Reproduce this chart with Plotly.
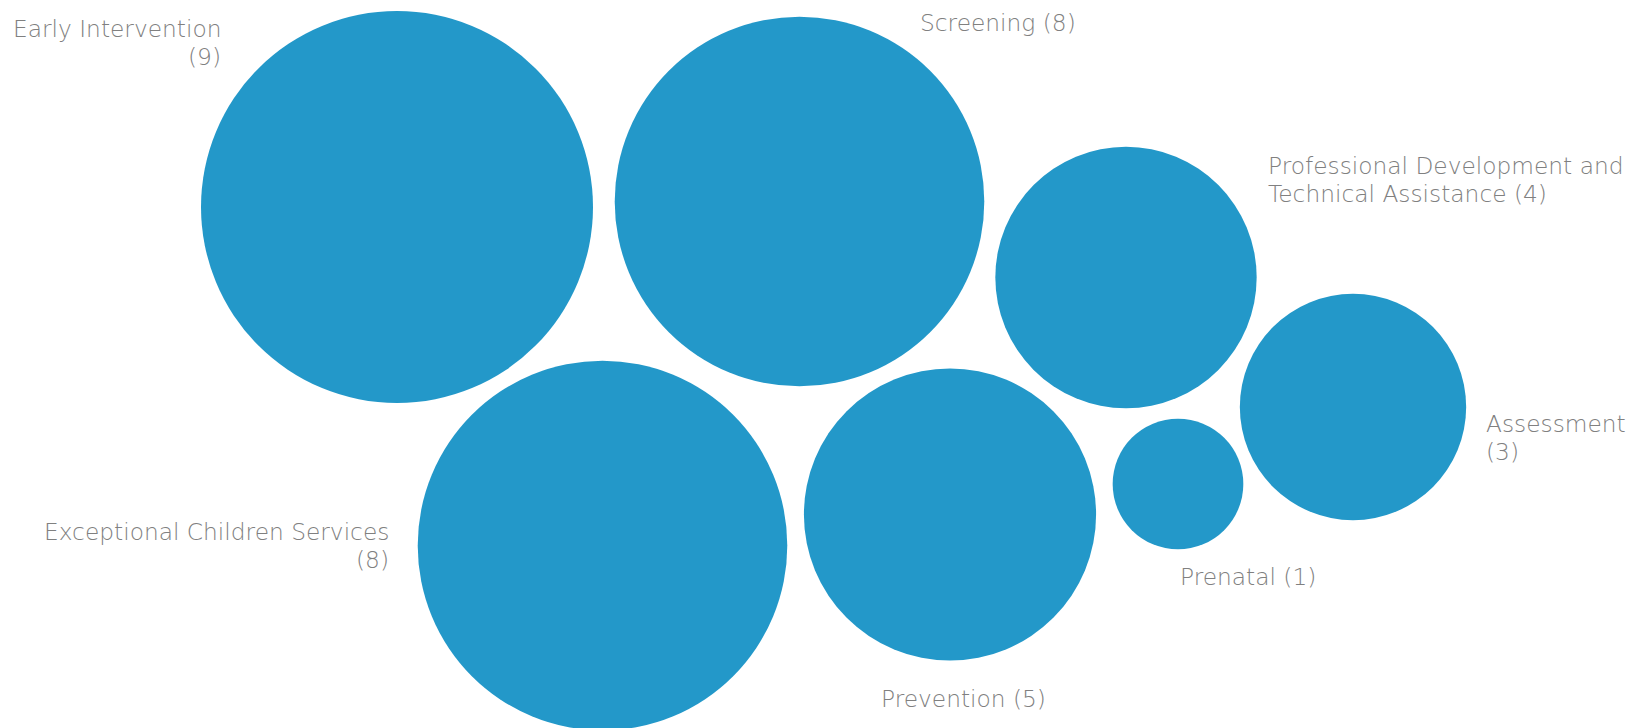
import plotly.graph_objects as go

# Program counts by service area
categories = [
    "Early Intervention",
    "Screening",
    "Professional Development and<br>Technical Assistance",
    "Assessment",
    "Prenatal",
    "Prevention",
    "Exceptional Children Services",
]
counts = [9, 8, 4, 3, 1, 5, 8]

# Packed bubble centres (pixel space of the canvas)
centre_x = [397, 799.5, 1126, 1353, 1178, 950, 602.5]
centre_y = [207, 201.5, 277.5, 407, 484, 514.5, 545.5]

# Label anchor (first line centre) and alignment
label_x = [223, 918, 1266, 1484, 1178, 879, 391]
label_y = [28, 22, 165, 423, 576, 698, 531]
label_side = ["right", "left", "left", "left", "left", "left", "right"]
label_break = [True, False, False, True, False, False, True]

W, H = 1642, 728
MAX_DIAMETER = 392
LINE_GAP = 28.5
BUBBLE_COLOR = "#2398c9"
TEXT_COLOR = "#808080"
LABEL_FONT = dict(family="DejaVu Sans", size=23.3, color=TEXT_COLOR, weight=300)

fig = go.Figure()
fig.add_trace(go.Scatter(
    x=centre_x,
    y=centre_y,
    mode="markers",
    marker=dict(
        size=counts,
        sizemode="area",
        sizeref=2.0 * max(counts) / MAX_DIAMETER ** 2,
        color=BUBBLE_COLOR,
        line=dict(width=0),
        opacity=1,
    ),
    hoverinfo="skip",
    showlegend=False,
))

for name, n, lx, ly, side, brk in zip(categories, counts, label_x, label_y, label_side, label_break):
    text = f"{name}<br>({n})" if brk else f"{name} ({n})"
    for i, line in enumerate(text.split("<br>")):
        fig.add_annotation(
            x=lx, y=ly + i * LINE_GAP, xref="x", yref="y",
            text=line, showarrow=False,
            xanchor=side, yanchor="middle", align=side,
            font=LABEL_FONT,
        )

fig.update_layout(
    width=W, height=H,
    margin=dict(l=0, r=0, t=0, b=0),
    paper_bgcolor="white",
    plot_bgcolor="white",
    xaxis=dict(range=[0, W], visible=False, fixedrange=True),
    yaxis=dict(range=[H, 0], visible=False, fixedrange=True),
)

fig.write_html("out.html")
